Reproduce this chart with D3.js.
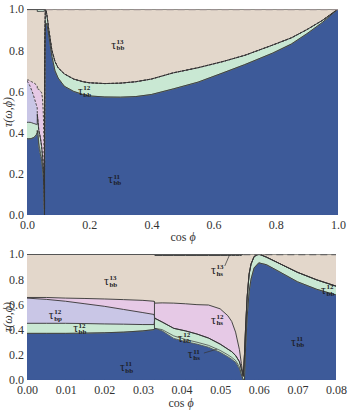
<!DOCTYPE html>
<html><head><meta charset="utf-8">
<script src="https://cdn.jsdelivr.net/npm/d3@7"></script>
<style>
body{margin:0;background:#fff}
svg{display:block}
text{font-family:"Liberation Serif","Times New Roman",Tinos,"DejaVu Serif",serif !important;}
</style>
</head><body>
<svg id="c" width="348" height="413"></svg>
<script>
// ---------- DATA ----------
// Lower panel (zoomed range of cos phi)
const xB     = [0, .005, .01, .015, .02, .025, .03, .0329, .0331, .035, .038, .041, .044, .047, .05, .052, .053, .054, .055, .0555, .056, .0563, .0566, .057, .0575, .058, .0588, .06, .062, .065, .07, .075, .08];
const blueB  = [.37,.37,.37,.372,.375,.38,.39,.40,.41,.39,.33,.305,.285,.26,.22,.185,.165,.14,.09,.04,0,0,.26,.5,.7,.8,.89,.93,.915,.865,.78,.72,.675];
const hs11B  = [.37,.37,.37,.372,.375,.38,.39,.40,.41,.40,.35,.322,.30,.275,.235,.2,.18,.155,.105,.05,0,0,.26,.5,.7,.8,.89,.93,.915,.865,.78,.72,.675];
const greenB = [.45,.45,.45,.448,.445,.443,.44,.44,.49,.46,.41,.39,.365,.333,.285,.245,.225,.195,.145,.09,.03,.2,.42,.66,.84,.92,.98,1.0,.975,.93,.855,.795,.745];
const lavB   = [.65,.64,.625,.605,.585,.56,.535,.52,.49,.46,.41,.39,.365,.333,.285,.245,.225,.195,.145,.09,.03,.2,.42,.66,.84,.92,.98,1.0,.975,.93,.855,.795,.745];
const pinkB  = [.655,.655,.65,.647,.643,.638,.632,.625,.61,.612,.61,.605,.598,.595,.565,.51,.465,.38,.24,.13,.03,.2,.42,.66,.84,.92,.98,1.0,.975,.93,.855,.795,.745];
const topB   = [1,1,1,1,1,1,1,1,.988,.988,.988,.988,.988,.988,.988,.988,.988,.988,.988,.988,1,1,1,1,1,1,1,1,1,1,1,1,1];
// Upper panel (full range), continues the lower-panel data beyond cos phi = 0.06
const xT     = [.062, .065, .07, .075, .08, .09, .1, .12, .15, .18, .2, .25, .3, .35, .4, .47, .55, .63, .7, .79, .85, .9, .95, 1.0];
const blueT  = [.93, .92, .87, .82, .77, .70, .665, .625, .60, .585, .578, .573, .572, .575, .585, .612, .645, .69, .73, .786, .83, .88, .935, 1.0];
const greenT = [.99, .96, .90, .85, .80, .745, .715, .685, .66, .647, .642, .638, .64, .647, .66, .69, .715, .745, .775, .825, .86, .9, .945, 1.0];
const topT   = [1,1,1,1,1,1,1,1,1,1,1,1,1,1,1,1,1,1,1,1,1,1,1,1];
// separator at cos phi = 0.033 (lower panel)
const sepX = 0.033, sepY = [0.40, 0.625];
// tick labels
const yTicks = [0, 0.2, 0.4, 0.6, 0.8, 1.0];
const xTicksT = [0, 0.2, 0.4, 0.6, 0.8, 1.0];
const xTicksB = [0, 0.01, 0.02, 0.03, 0.04, 0.05, 0.06, 0.07, 0.08];
// region labels
const labelsT = [
  {x:.29, y:.825, sup:'13', sub:'bb'},
  {x:.183, y:.60, sup:'12', sub:'bb'},
  {x:.28, y:.17, sup:'11', sub:'bb'}];
const labelsB = [
  {x:.0215, y:.78, sup:'13', sub:'bb'},
  {x:.0072, y:.51, sup:'12', sub:'bp'},
  {x:.0135, y:.405, sup:'12', sub:'bb'},
  {x:.0256, y:.10, sup:'11', sub:'bb'},
  {x:.0492, y:.87, sup:'13', sub:'hs'},
  {x:.0492, y:.476, sup:'12', sub:'hs'},
  {x:.0406, y:.333, sup:'12', sub:'bb'},
  {x:.0432, y:.20, sup:'11', sub:'hs'},
  {x:.0699, y:.30, sup:'11', sub:'bb'},
  {x:.0777, y:.71, sup:'12', sub:'bb'}];
const leadersB = [
  {x1:.0512, y1:.905, x2:.0524, y2:.99},
  {x1:.0458, y1:.214, x2:.0492, y2:.245}];

// ---------- DRAW ----------
const FONT = '"Liberation Serif","Times New Roman",Tinos,"DejaVu Serif",serif';
const C = {blue:'#3d5a99', green:'#c9e8d3', beige:'#e3d7cb', lav:'#c9c6e6', pink:'#e6c9e6', sliver:'#d3ecdd', line:'#333'};
const svg = d3.select('#c');

function buildRows(xs, cols){
  return xs.map((x,i)=>{const r={x}; for(const k in cols) r[k]=cols[k][i]; return r;});
}
const rowsB = buildRows(xB, {blue:blueB, hs11:hs11B, green:greenB, lav:lavB, pink:pinkB, top:topB});
const rowsT = rowsB.filter(r=>r.x<=0.06).concat(
  buildRows(xT, {blue:blueT, hs11:blueT, green:greenT, lav:greenT, pink:greenT, top:topT}));

function panel(id, rows, xDom, xRange, yRange, xTicks, fmt, dashedMid, labels, leaders, dashFrom, dashColor){
  const x = d3.scaleLinear().domain(xDom).range(xRange);
  const y = d3.scaleLinear().domain([0,1]).range(yRange);
  const g = svg.append('g');
  g.append('clipPath').attr('id', id).append('rect')
    .attr('x', xRange[0]).attr('y', yRange[1]).attr('width', xRange[1]-xRange[0]).attr('height', yRange[0]-yRange[1]);
  const pg = g.append('g').attr('clip-path', `url(#${id})`);
  const layers = [[null,'blue',C.blue],['blue','hs11',C.green],['hs11','green',C.green],['green','lav',C.lav],['lav','pink',C.pink],['pink','top',C.beige],['top',null,C.sliver]];
  layers.forEach(([lo,hi,col])=>{
    pg.append('path').datum(rows).attr('fill', col).attr('stroke', col).attr('stroke-width', 0.3)
      .attr('d', d3.area().x(d=>x(d.x)).y0(d=>y(lo?d[lo]:0)).y1(d=>y(hi?d[hi]:1)));
  });
  const bounds = [['blue',0.7,null],['hs11',0.7,null],['green',0.9,null],['lav',0.9,dashedMid],['pink',0.9,dashedMid],['top',0.9,null]];
  bounds.forEach(([k,w,dash])=>{
    pg.append('path').datum(rows).attr('fill','none').attr('stroke', C.line).attr('stroke-width', w)
      .attr('stroke-dasharray', dash)
      .attr('d', d3.line().x(d=>x(d.x)).y(d=>y(d[k])));
  });
  // top edge: solid then dashed
  pg.append('line').attr('x1', x(xDom[0])).attr('x2', x(dashFrom)).attr('y1', y(1)+0.5).attr('y2', y(1)+0.5)
    .attr('stroke', '#555').attr('stroke-width', 1.2);
  pg.append('line').attr('x1', x(dashFrom)).attr('x2', x(xDom[1])).attr('y1', y(1)+0.6).attr('y2', y(1)+0.6)
    .attr('stroke', dashColor).attr('stroke-width', 1.2).attr('stroke-dasharray', '7,4');
  // axes
  const ax = g.append('g').attr('transform', `translate(0,${yRange[0]})`)
    .call(d3.axisBottom(x).tickValues(xTicks).tickFormat(d3.format(fmt)).tickSize(0).tickPadding(5));
  const ay = g.append('g').attr('transform', `translate(${xRange[0]},0)`)
    .call(d3.axisLeft(y).tickValues(yTicks).tickFormat(d3.format('.1f')).tickSize(0).tickPadding(3));
  [ax, ay].forEach(a=>{
    a.attr('font-family', null).attr('font-size', null);
    a.select('.domain').remove();
    a.selectAll('text').attr('font-size', 12).attr('fill', '#333').style('font-family', FONT);
  });
  // labels
  labels.forEach(l=>{
    const cx = x(l.x), cy = y(l.y);
    const t = g.append('g').attr('fill', '#1c1c24');
    t.append('text').attr('x', cx-6).attr('y', cy+3.5).attr('font-size', 12).text('τ');
    t.append('text').attr('x', cx-0.6).attr('y', cy-1.3).attr('font-size', 7).attr('font-weight', 'bold').text(l.sup);
    t.append('text').attr('x', cx-0.6).attr('y', cy+5.2).attr('font-size', 7).attr('font-weight', 'bold').text(l.sub);
  });
  leaders.forEach(a=>{
    g.append('line').attr('x1', x(a.x1)).attr('y1', y(a.y1)).attr('x2', x(a.x2)).attr('y2', y(a.y2))
      .attr('stroke', '#333').attr('stroke-width', 0.7);
  });
  return {x, y, g};
}

const P1 = panel('clipT', rowsT, [0,1], [27,338], [215,9], xTicksT, '.1f', '2.5,1.5', labelsT, [], 0.06, '#9a9090');
const P2 = panel('clipB', rowsB, [0,0.08], [27,336], [380,254], xTicksB, '.2f', null, labelsB, leadersB, 0.056, '#666');
// separator in lower panel
P2.g.append('line').attr('x1', P2.x(sepX)).attr('x2', P2.x(sepX)).attr('y1', P2.y(sepY[0])).attr('y2', P2.y(sepY[1]))
  .attr('stroke', '#444').attr('stroke-width', 1);

// axis titles
function xTitle(cx, cy){
  const t = svg.append('text').attr('x', cx).attr('y', cy).attr('text-anchor', 'middle').attr('font-size', 12).attr('fill', '#333');
  t.append('tspan').text('cos  ');
  t.append('tspan').attr('font-style', 'italic').text('ϕ');
}
xTitle(183, 241);
xTitle(181, 407);
function yTitle(cx, cy){
  svg.append('text').attr('transform', `translate(${cx},${cy}) rotate(-90)`).attr('text-anchor', 'middle')
    .attr('font-size', 12).attr('font-style', 'italic').attr('fill', '#333').text('τ(ω,ϕ)');
}
yTitle(12, 112);
yTitle(12, 317);
</script>
</body></html>
